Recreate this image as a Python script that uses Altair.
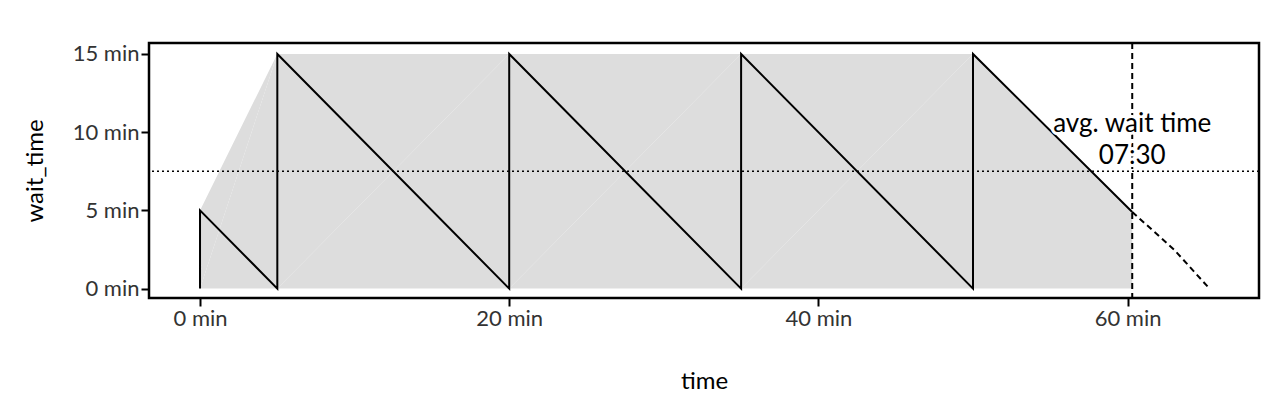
import altair as alt
import pandas as pd

t = [0, 0, 5, 5, 20, 20, 35, 35, 50, 50, 60.3]
w = [0, 5, 0, 15, 0, 15, 0, 15, 0, 15, 4.9]
seg_t = [0, 5, 5, 20, 20, 35, 35, 50, 50, 60.3]
seg_w = [5, 0, 15, 0, 15, 0, 15, 0, 15, 4.9]
seg_id = [0, 0, 1, 1, 2, 2, 3, 3, 4, 4]
proj_t = [60.3, 63, 65.3]
proj_w = [4.9, 2.5, 0]
avg = 7.5
now_t = 60.3

df = pd.DataFrame({"time": t, "wait_time": w, "i": list(range(len(t)))})
sg = pd.DataFrame({"time": seg_t, "wait_time": seg_w, "seg": seg_id})
pj = pd.DataFrame({"time": proj_t, "wait_time": proj_w, "i": list(range(len(proj_t)))})
FONT = "Lato"

xs = alt.Scale(domain=[-3.3, 68.5], nice=False, zero=False)
ys = alt.Scale(domain=[-0.6, 15.7], nice=False, zero=False)
X = alt.X("time:Q", scale=xs, title="time",
          axis=alt.Axis(values=[0, 20, 40, 60], labelExpr="datum.value + ' min'", grid=False,
                        titlePadding=40, labelFontSize=22, titleFontSize=24))
Y = alt.Y("wait_time:Q", scale=ys, title="wait_time",
          axis=alt.Axis(values=[0, 5, 10, 15], labelExpr="datum.value + ' min'", grid=False,
                        titlePadding=25, labelFontSize=22, titleFontSize=24))

area = alt.Chart(sg).mark_area(color="#dddddd", interpolate="linear").encode(x=X, y=Y, detail="seg:N")
line = alt.Chart(df).mark_line(color="black", strokeWidth=2).encode(x=X, y=Y, order="i:Q")
proj = alt.Chart(pj).mark_line(color="black", strokeWidth=2, strokeDash=[6, 4]).encode(x=X, y=Y, order="i:Q")
vrule = alt.Chart(pd.DataFrame({"time": [now_t]})).mark_rule(color="black", strokeWidth=2, strokeDash=[6, 4]).encode(x="time:Q")
hrule = alt.Chart(pd.DataFrame({"wait_time": [avg]})).mark_rule(color="black", strokeWidth=1.5, strokeDash=[2, 3]).encode(y="wait_time:Q")

lab = pd.DataFrame({"time": [now_t, now_t], "wait_time": [10.5, 8.5], "txt": ["avg. wait time", "07:30"]})
halo = alt.Chart(lab).mark_text(fontSize=26, font=FONT, stroke="white", strokeWidth=6, color="white").encode(x="time:Q", y="wait_time:Q", text="txt:N")
txt = alt.Chart(lab).mark_text(fontSize=26, font=FONT, color="black").encode(x="time:Q", y="wait_time:Q", text="txt:N")

chart = alt.layer(area, hrule, line, proj, vrule, halo, txt).properties(
    width=1110, height=255, padding={"top": 34, "left": 15, "right": 5, "bottom": 5}
).configure_view(stroke="black", strokeWidth=2.5).configure_axis(
    labelFont=FONT, titleFont=FONT, labelColor="#333", titleColor="black",
    domain=False, tickColor="black", tickWidth=2, tickSize=8, titleFontWeight="normal"
)

chart.save("out.html", embed_options={"renderer": "svg", "actions": False})
